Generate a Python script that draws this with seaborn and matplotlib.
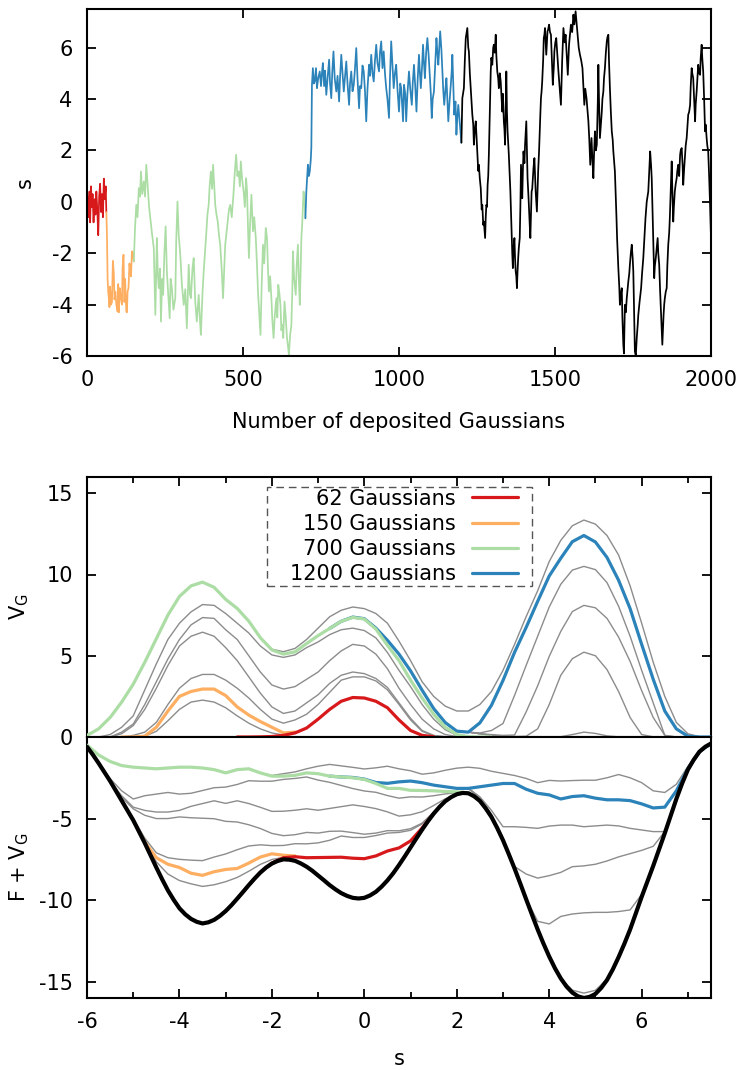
import numpy as np
import pandas as pd
import matplotlib
matplotlib.use("Agg")
import matplotlib.pyplot as plt
import seaborn as sns
from matplotlib.lines import Line2D
from matplotlib.patches import Rectangle
from matplotlib.ticker import FixedLocator

N = np.nan

# ---------------- top panel: trajectory s(t) ----------------
seg_red = [(0,-0.3),(3,0.2),(5,-0.6),(8,0.4),(10,-0.8),(13,0.6),(15,-0.2),(18,0.3),(21,-0.8),(24,0.1),
           (27,-0.5),(30,0.4),(33,-0.3),(36,-1.3),(39,0.2),(42,0.7),(45,-0.4),(48,0.3),(51,-0.6),(54,0.9),
           (57,0.1),(60,0.6),(62,-0.4)]
seg_orange = [(64,-1.3),(66,-3.0),(68,-3.5),(70,-3.75),(72,-4.1),(74,-3.3),(77,-4.0),(80,-3.9),(83,-2.3),
              (86,-2.8),(88,-3.8),(91,-3.5),(94,-4.0),(98,-4.27),(100,-3.2),(102,-4.3),(105,-3.36),(108,-3.7),
              (112,-4.0),(114,-2.6),(117,-2.06),(120,-3.9),(122,-3.0),(126,-4.27),(128,-4.3),(130,-3.5),
              (133,-3.36),(136,-2.4),(139,-2.71),(141,-2.9),(144,-1.93),(147,-2.0),(150,-2.32)]
seg_green = [(154,-1.0),(158,-0.12),(162,-0.6),(166,0.53),(170,0.2),(173,1.18),(177,0.3),(182,0.79),(186,0.2),
             (190,1.44),(195,0.53),(199,-0.2),(203,-0.64),(208,-1.2),(214,-1.8),(219,-4.4),(224,-1.41),(227,-2.8),
             (230,-3.36),(234,-2.6),(237,-4.66),(241,-3.0),(244,-3.62),(248,-2.0),(252,-0.96),(256,-2.71),(260,-3.5),
             (265,-4.53),(268,-3.0),(272,-3.36),(277,-4.2),(283,-3.75),(286,-1.5),(290,0.01),(294,-1.3),(299,-2.06),
             (304,-3.2),(310,-4.01),(315,-3.4),(320,-4.92),(326,-2.45),(330,-3.6),(333,-3.75),(338,-2.6),(342,-2.19),
             (347,-3.9),(352,-4.66),(358,-3.62),(362,-4.6),(365,-5.18),(370,-3.6),(374,-2.71),(378,-2.0),(382,-1.28),
             (386,-0.5),(390,-0.12),(393,0.6),(397,1.18),(401,0.5),(404,1.44),(408,0.6),(411,-0.12),(415,-0.5),
             (419,-0.77),(423,-1.3),(427,-1.67),(432,-2.7),(436,-3.75),(440,-2.5),(443,-1.67),(447,-1.2),(451,-0.77),
             (455,-0.3),(459,-0.12),(464,-0.6),(470,0.40),(474,1.2),(478,1.83),(482,1.0),(486,1.18),(490,0.6),
             (493,1.57),(497,0.9),(502,0.40),(506,-0.2),(510,0.92),(513,0.40),(516,-1.0),(519,-2.19),(523,-0.8),
             (527,0.27),(532,-1.15),(536,-0.6),(541,-1.41),(545,-2.5),(548,-3.49),(552,-4.3),(556,-5.18),(560,-3.2),
             (564,-1.67),(568,-2.4),(573,-1.02),(577,-1.41),(580,-2.6),(583,-3.49),(587,-2.9),(591,-3.75),(594,-4.6),
             (598,-5.30),(602,-4.4),(607,-3.75),(610,-4.5),(613,-3.23),(617,-3.6),(620,-4.01),(623,-5.0),(626,-4.79),
             (629,-5.3),(633,-3.88),(637,-4.5),(641,-5.30),(644,-5.6),(647,-5.95),(651,-5.2),(655,-4.79),(658,-3.5),
             (660,-1.93),(664,-3.0),(669,-3.62),(672,-2.5),(676,-1.67),(679,-3.0),(682,-4.01),(685,-2.6),(687,-1.41),
             (690,-0.8),(694,0.40),(697,0.1),(700,-0.64)]
seg_blue = [(703,0.40),(708,1.44),(711,1.0),(714,1.18),(717,1.6),(719,2.09),(721,4.55),(724,5.20),(727,4.6),
            (730,4.68),(734,5.2),(737,4.42),(741,4.8),(746,5.07),(750,4.5),(753,5.0),(756,5.40),(760,4.5),(763,5.1),
            (767,4.16),(771,4.8),(776,5.53),(779,4.6),(783,4.03),(786,5.0),(790,5.85),(794,4.8),(799,4.29),(803,4.9),
            (808,3.90),(811,4.8),(815,5.72),(819,5.0),(823,4.29),(827,4.9),(831,5.46),(835,4.6),(840,3.77),(843,4.6),
            (847,5.07),(851,4.3),(855,4.55),(859,5.2),(863,5.98),(867,4.8),(872,3.64),(875,4.5),(879,4.42),(883,5.3),
            (887,5.07),(891,4.3),(895,3.13),(899,4.4),(904,5.33),(907,4.9),(911,5.72),(915,5.0),(919,4.68),(923,5.5),
            (927,6.11),(931,5.4),(936,5.07),(939,5.8),(943,6.24),(947,5.2),(951,5.85),(955,5.0),(959,4.42),(963,4.0),
            (968,3.26),(971,4.8),(975,6.24),(979,5.3),(983,4.42),(987,5.0),(991,5.33),(995,4.4),(1000,3.51),(1004,4.6),
            (1007,4.42),(1010,3.8),(1013,3.13),(1016,4.55),(1020,4.2),(1023,3.13),(1027,4.2),(1032,5.07),(1036,4.4),
            (1041,3.77),(1044,4.6),(1048,5.33),(1052,4.5),(1056,3.51),(1060,4.8),(1064,5.72),(1067,5.0),(1070,4.42),
            (1074,5.3),(1077,6.11),(1080,5.4),(1083,4.81),(1087,5.8),(1091,6.37),(1095,5.7),(1098,5.07),(1102,4.2),
            (1105,3.26),(1108,4.0),(1112,4.29),(1116,5.3),(1120,6.37),(1123,5.8),(1126,5.33),(1129,6.0),(1132,6.63),
            (1136,5.9),(1139,5.07),(1142,4.3),(1145,3.77),(1149,4.4),(1152,4.81),(1155,4.0),(1158,3.13),(1162,3.9),
            (1166,4.55),(1169,5.1),(1171,5.72),(1174,4.6),(1177,3.39),(1181,3.9),(1184,2.61),(1187,3.3),(1190,3.77),
            (1194,3.2),(1197,2.74),(1200,2.3)]
seg_black = [(1203,4.03),(1208,4.42),(1211,5.5),(1214,6.37),(1219,6.76),(1222,6.0),(1224,5.85),(1227,5.0),(1230,4.42),
             (1233,3.8),(1235,3.39),(1238,3.0),(1240,2.22),(1243,2.8),(1246,3.13),(1249,2.4),(1251,1.96),(1254,1.2),
             (1256,1.44),(1259,0.9),(1262,0.53),(1265,-0.3),(1267,-0.12),(1270,-0.9),(1272,-0.77),(1276,-1.41),
             (1278,-0.6),(1280,-0.12),(1282,-0.2),(1284,0.66),(1286,1.0),(1288,1.83),(1291,3.5),(1294,5.07),(1296,5.6),
             (1299,5.33),(1302,6.0),(1304,6.11),(1307,5.8),(1310,6.50),(1312,5.7),(1315,5.07),(1318,4.8),(1320,4.42),
             (1323,5.0),(1326,4.68),(1328,4.2),(1331,3.51),(1333,4.2),(1336,3.13),(1338,2.8),(1340,2.22),(1342,3.6),
             (1344,5.07),(1346,3.5),(1348,2.74),(1350,2.3),(1352,1.83),(1355,1.0),(1357,0.40),(1359,-0.4),(1361,-1.15),
             (1363,-2.0),(1365,-2.58),(1367,-1.8),(1370,-1.41),(1372,-2.2),(1374,-2.71),(1376,-2.9),(1378,-3.36),
             (1380,-2.7),(1382,-2.19),(1384,-1.8),(1387,-1.41),(1389,-0.2),(1391,1.44),(1393,0.8),(1395,0.14),
             (1397,1.2),(1399,1.96),(1402,1.5),(1404,2.22),(1406,2.7),(1408,3.13),(1410,2.0),(1412,0.92),(1415,0.2),
             (1417,-0.38),(1419,-0.9),(1421,-1.41),(1423,-0.5),(1425,0.40),(1427,0.5),(1429,0.92),(1431,1.3),
             (1434,1.70),(1436,1.0),(1438,0.40),(1440,0.0),(1442,-0.38),(1444,0.4),(1446,1.18),(1449,2.0),(1451,2.74),
             (1453,3.4),(1455,4.03),(1457,4.3),(1459,4.68),(1462,5.5),(1464,6.37),(1466,6.5),(1468,6.76),(1470,6.2),
             (1472,5.72),(1474,6.2),(1476,6.63),(1478,6.7),(1481,6.89),(1484,6.6),(1487,6.50),(1490,5.5),(1493,4.55),
             (1496,5.2),(1498,5.85),(1501,6.2),(1504,6.37),(1508,5.6),(1511,5.07),(1515,4.4),(1519,3.77),(1523,5.5),
             (1527,6.76),(1531,6.2),(1534,6.50),(1538,5.6),(1541,4.94),(1543,5.5),(1545,6.11),(1548,6.5),(1551,6.89),
             (1555,6.6),(1559,7.28),(1562,6.9),(1566,7.41),(1569,7.0),(1573,6.50),(1576,6.0),(1580,5.72),(1584,5.5),
             (1588,5.20),(1591,4.5),(1594,3.77),(1597,4.4),(1601,4.03),(1604,3.6),(1607,3.13),(1610,2.4),(1613,1.44),
             (1615,2.0),(1617,2.48),(1620,1.6),(1623,0.92),(1625,1.8),(1628,2.74),(1631,2.0),(1634,2.22),(1637,3.8),
             (1639,5.33),(1641,4.0),(1644,2.48),(1647,3.0),(1650,3.51),(1652,4.0),(1655,4.29),(1657,4.8),(1660,5.20),
             (1663,5.8),(1666,6.24),(1668,6.4),(1671,6.50),(1673,5.5),(1676,4.42),(1679,3.5),(1682,2.74),(1685,2.4),
             (1687,1.96),(1690,1.5),(1692,1.18),(1695,0.14),(1697,-0.6),(1699,-1.41),(1701,-2.0),(1703,-2.58),
             (1706,-3.3),(1708,-4.01),(1711,-3.6),(1714,-3.36),(1716,-4.5),(1719,-5.56),(1721,-5.9),(1724,-4.01),
             (1727,-4.3),(1730,-3.75),(1732,-3.5),(1735,-3.10),(1738,-2.8),(1740,-2.45),(1743,-2.0),(1746,-1.67),
             (1749,-2.2),(1751,-2.71),(1754,-4.5),(1756,-5.82),(1759,-6.0),(1762,-5.30),(1765,-4.8),(1767,-4.40),
             (1771,-3.9),(1776,-3.36),(1779,-2.8),(1783,-2.19),(1786,-1.5),(1790,-0.64),(1794,0.0),(1799,0.40),
             (1802,1.2),(1805,1.96),(1808,1.4),(1810,0.92),(1812,0.0),(1814,-0.77),(1816,-2.0),(1818,-2.97),
             (1820,-2.5),(1823,-2.19),(1826,-1.8),(1829,-1.41),(1831,-2.0),(1834,-2.45),(1837,-3.5),(1840,-4.40),
             (1842,-5.0),(1844,-5.56),(1846,-5.0),(1848,-4.40),(1850,-4.0),(1852,-3.75),(1855,-3.5),(1858,-3.36),
             (1860,-2.5),(1863,-1.67),(1866,-1.2),(1868,-0.64),(1871,0.5),(1874,1.57),(1876,0.5),(1879,-0.77),
             (1881,-0.2),(1884,0.40),(1887,0.7),(1890,0.92),(1892,1.2),(1895,1.44),(1898,1.0),(1901,1.83),(1903,2.0),
             (1906,2.09),(1909,1.4),(1911,0.66),(1914,1.3),(1917,1.83),(1919,2.2),(1922,2.48),(1925,3.0),(1927,3.39),
             (1930,3.5),(1933,3.77),(1935,4.5),(1938,5.20),(1940,5.0),(1943,4.81),(1946,4.0),(1949,3.13),(1951,3.8),
             (1954,4.29),(1957,4.9),(1959,5.33),(1962,5.0),(1965,4.94),(1967,5.6),(1970,6.11),(1972,5.6),(1975,5.07),
             (1978,4.0),(1981,2.74),(1983,3.0),(1986,2.48),(1988,2.2),(1991,1.96),(1994,1.0),(1997,-0.12),(2000,-1.41)]

# ---------------- bottom panels: bias potential and F + V_G ----------------
s_fine = np.arange(-6.0, 7.5001, 0.125)   # 109 points, grid of the free-energy curve
s_grid = s_fine[::2]                      # 55 points, grid of the bias snapshots

free_energy = [-0.6, -1.08, -1.6, -2.15, -2.7, -3.3, -3.9, -4.5, -5.1, -5.8, -6.5, -7.25, -8.0, -8.72,
               -9.4, -9.98, -10.5, -10.87, -11.15, -11.33, -11.43, -11.36, -11.21, -10.97, -10.67, -10.31,
               -9.91, -9.5, -9.08, -8.68, -8.31, -8.0, -7.76, -7.6, -7.5, -7.52, -7.59, -7.75, -7.95, -8.2,
               -8.49, -8.78, -9.08, -9.34, -9.57, -9.74, -9.86, -9.9, -9.86, -9.71, -9.49, -9.17, -8.79,
               -8.35, -7.85, -7.32, -6.77, -6.22, -5.68, -5.17, -4.7, -4.29, -3.94, -3.69, -3.51, -3.43,
               -3.45, -3.63, -3.92, -4.37, -4.9, -5.58, -6.33, -7.18, -8.06, -8.99, -9.94, -10.88, -11.8,
               -12.66, -13.46, -14.18, -14.8, -15.3, -15.67, -15.9, -16.0, -15.93, -15.75, -15.38, -14.9,
               -14.25, -13.5, -12.68, -11.8, -10.8, -9.8, -8.85, -7.9, -6.9, -5.9, -4.85, -3.8, -2.85, -2.0,
               -1.4, -0.9, -0.6, -0.4]

vg_62 = [N]*13 + [0.0, 0.0, 0.01, 0.03, 0.1, 0.25, 0.55, 1.1, 1.7, 2.2, 2.43, 2.4, 2.2, 1.8, 1.05, 0.4,
                  0.1, 0.02] + [N]*24
vg_150 = [N]*3 + [0.0, 0.0, 0.05, 0.6, 1.6, 2.5, 2.8, 2.95, 2.95, 2.55, 1.85, 1.35, 0.95, 0.6, 0.25,
                  0.3] + [N]*36
vg_700 = [0.1, 0.5, 1.2, 2.15, 3.25, 4.6, 6.05, 7.5, 8.65, 9.3, 9.53, 9.21, 8.47, 7.91, 7.13, 6.11, 5.36,
          5.1, 5.24, 5.75, 6.24, 6.68, 7.12, 7.36, 7.26, 6.64, 5.64, 4.7, 3.5, 2.4, 1.4, 0.6, 0.15, 0.02,
          0.0, 0.0] + [N]*19
vg_1200 = [N]*21 + [6.68, 7.12, 7.38, 7.28, 6.7, 5.95, 5.1, 4.07, 2.88, 1.75, 0.89, 0.36, 0.3, 0.87,
                    1.95, 3.48, 5.21, 6.74, 8.35, 9.91, 11.0, 12.02, 12.4, 12.0, 11.05, 9.65, 7.9, 5.7,
                    3.55, 1.6, 0.5, 0.05, 0.0, 0.0]

# intermediate snapshots (grey)
vg_g100 = [N]*4 + [0.0, 0.05, 0.35, 1.0, 1.7, 2.15, 2.27, 2.15, 1.8, 1.3, 0.85, 0.5, 0.25, 0.12, 0.26,
                   0.55, 1.1, 1.7, 2.2, 2.43, 2.4, 2.2, 1.8, 1.05, 0.4, 0.1, 0.02] + [N]*24
vg_g250 = [N]*3 + [0.0, 0.1, 0.3, 0.9, 2.0, 3.0, 3.6, 3.85, 3.85, 3.5, 3.0, 2.4, 1.7, 1.1, 0.85, 1.05,
                   1.4, 2.0, 2.75, 3.5, 3.7, 3.7, 3.45, 2.9, 2.0, 1.05, 0.35, 0.08, 0.01] + [N]*23
vg_g350 = [N]*2 + [0.0, 0.2, 0.7, 1.7, 3.0, 4.4, 5.6, 6.2, 6.45, 6.2, 5.5, 4.7, 3.7, 2.7, 1.85, 1.45,
                   1.6, 2.1, 2.6, 3.3, 3.8, 4.0, 3.9, 3.6, 3.05, 2.1, 1.15, 0.4, 0.1, 0.02] + [N]*23
vg_g450 = [N]*2 + [0.0, 0.3, 0.8, 2.0, 3.4, 4.8, 6.0, 6.9, 7.35, 7.3, 6.6, 6.0, 5.0, 4.0, 3.2, 2.95,
                   3.1, 3.55, 4.0, 4.7, 5.3, 5.7, 5.6, 5.1, 4.2, 3.0, 2.0, 1.1, 0.5, 0.15, 0.03] + [N]*22
vg_g600 = [N]*1 + [0.0, 0.15, 0.6, 1.3, 2.9, 4.5, 6.0, 7.0, 7.7, 8.15, 8.1, 7.6, 7.0, 6.4, 5.6, 5.05,
                   4.9, 5.05, 5.5, 5.85, 6.3, 6.6, 6.7, 6.55, 6.1, 5.2, 4.1, 3.1, 2.0, 1.1, 0.45, 0.1,
                   0.01] + [N]*21
vg_g750 = [N]*33 + [0.3, 0.2, 0.1, 0.05, 0.02, 0.0, 0.0, 0.0, 0.02, 0.15, 0.3, 0.22, 0.07, 0.01, 0.0,
                    0.0] + [N]*6
vg_g850 = [N]*33 + [0.3, 0.2, 0.1, 0.05, 0.03, 0.05, 0.5, 2.0, 3.8, 4.82, 5.22, 5.0, 4.15, 2.8, 1.2,
                    0.15, 0.01, 0.0] + [N]*4
vg_g950 = [N]*33 + [0.3, 0.2, 0.15, 0.1, 0.12, 1.54, 3.15, 4.96, 6.5, 7.72, 8.1, 7.95, 7.3, 6.15, 4.65,
                    2.85, 1.2, 0.1, 0.0] + [N]*3
vg_g1050 = [N]*33 + [0.3, 0.25, 0.4, 0.83, 2.56, 4.4, 6.2, 8.0, 9.4, 10.27, 10.5, 10.3, 9.5, 8.05, 6.2,
                     4.1, 2.1, 0.1, 0.0] + [N]*3
vg_g1300 = [N]*15 + [6.11, 5.4, 5.25, 5.45, 6.0, 6.7, 7.4, 7.8, 8.0, 7.9, 7.6, 7.0, 5.9, 4.7, 3.4, 2.5,
                     1.9, 1.6, 1.6, 2.0, 2.8, 4.1, 5.7, 7.4, 9.0, 10.8, 12.1, 13.0, 13.35, 13.1, 12.4,
                     11.2, 9.3, 7.0, 4.6, 2.5, 0.9, 0.2, 0.02, 0.0]

legend_labels = ["62 Gaussians", "150 Gaussians", "700 Gaussians", "1200 Gaussians"]

RED, ORANGE, GREEN, BLUE = "#d7191c", "#fdae61", "#abdda4", "#2b83ba"
GREY = "#8c8c8c"

# ---------------- style ----------------
sns.set_theme(style="ticks", rc={"axes.edgecolor": "black", "xtick.color": "black",
                                 "ytick.color": "black", "axes.labelcolor": "black",
                                 "text.color": "black"})
plt.rcParams["font.family"] = ["DejaVu Sans"]
plt.rcParams["mathtext.default"] = "regular"
plt.rcParams["axes.unicode_minus"] = False
FS = 15

W, H = 745, 1070
def frac(l, t, r, b):
    return [l / W, 1 - b / H, (r - l) / W, (b - t) / H]

fig = plt.figure(figsize=(W / 100, H / 100), dpi=100)
ax_t = fig.add_axes(frac(87, 9, 711, 356))
ax_v = fig.add_axes(frac(87, 477, 711, 737))
ax_f = fig.add_axes(frac(87, 737, 711, 998))

# ---- top panel ----
prev = None
for seg, col in [(seg_red, RED), (seg_orange, ORANGE), (seg_green, GREEN), (seg_blue, BLUE), (seg_black, "black")]:
    pts = ([prev] if prev is not None else []) + seg
    df = pd.DataFrame(pts, columns=["n", "s"])
    sns.lineplot(data=df, x="n", y="s", ax=ax_t, color=col, lw=1.25, estimator=None,
                 sort=False, legend=False)
    prev = seg[-1]

ax_t.set_xlim(0, 2000)
ax_t.set_ylim(-6, 7.5)
ax_t.set_xticks([0, 500, 1000, 1500, 2000])
ax_t.set_yticks([-6, -4, -2, 0, 2, 4, 6])
ax_t.set_xlabel("Number of deposited Gaussians", fontsize=FS)
ax_t.set_ylabel("s", fontsize=FS)

# ---- bottom panels ----
F_fine = np.array(free_energy)
F = F_fine[::2]
greys = [vg_g100, vg_g250, vg_g350, vg_g450, vg_g600, vg_g750, vg_g850, vg_g950, vg_g1050, vg_g1300]
for c in greys:
    c = np.array(c, dtype=float)
    sns.lineplot(x=s_grid, y=c, ax=ax_v, color=GREY, lw=1.0, zorder=2.6, legend=False)
    sns.lineplot(x=s_grid, y=F + c, ax=ax_f, color=GREY, lw=1.0, zorder=2.6, legend=False)

for c, col in [(vg_1200, BLUE), (vg_700, GREEN), (vg_150, ORANGE), (vg_62, RED)]:
    c = np.array(c, dtype=float)
    sns.lineplot(x=s_grid, y=c, ax=ax_v, color=col, lw=2.3, zorder=3, legend=False)
    sns.lineplot(x=s_grid, y=F + c, ax=ax_f, color=col, lw=2.3, zorder=3, legend=False)

sns.lineplot(x=s_fine, y=F_fine, ax=ax_f, color="black", lw=3.0, zorder=4, legend=False)

for ax in (ax_v, ax_f):
    ax.set_xlim(-6, 7.5)
    ax.xaxis.set_major_locator(FixedLocator([-6, -4, -2, 0, 2, 4, 6]))
    ax.xaxis.set_minor_locator(FixedLocator([-5, -3, -1, 1, 3, 5, 7]))
ax_v.set_ylim(0, 16)
ax_v.set_yticks([0, 5, 10, 15])
ax_f.set_ylim(-16, 0)
ax_f.set_yticks([-15, -10, -5])

ax_v.set_ylabel("V$_G$", fontsize=FS)
ax_f.set_ylabel("F + V$_G$", fontsize=FS)
ax_f.set_xlabel("s", fontsize=FS)
ax_v.set_xlabel("")

# ticks & spines
for ax in (ax_t, ax_v, ax_f):
    for sp in ax.spines.values():
        sp.set_linewidth(1.5)
        sp.set_color("black")
    ax.tick_params(which="major", direction="in", length=6.5, width=1.3, labelsize=FS, pad=10.3,
                   left=True, right=True)
    ax.tick_params(which="minor", direction="in", length=4.3, width=1.3)
ax_t.tick_params(axis="x", top=True, bottom=True)
ax_v.tick_params(axis="x", which="both", top=True, bottom=False, labelbottom=False, labeltop=False)
ax_f.tick_params(axis="x", which="both", top=False, bottom=True, labelbottom=True)

# label positions
ax_t.yaxis.set_label_coords(-0.083, 0.5)
ax_v.yaxis.set_label_coords(-0.09, 0.5)
ax_f.yaxis.set_label_coords(-0.09, 0.5)
ax_t.xaxis.set_label_coords(0.5, -0.16)
ax_f.xaxis.set_label_coords(0.5, -0.195)

# legend (gnuplot-like: right-aligned text, sample on the right, dashed box)
handles = [Line2D([], [], color=c, lw=2.3) for c in (RED, ORANGE, GREEN, BLUE)]
leg = ax_v.legend(handles, legend_labels, loc="upper right", bbox_to_anchor=(0.690, 0.955),
                  markerfirst=False, frameon=False, fontsize=FS, handlelength=2.2,
                  handletextpad=0.75, labelspacing=0.25, borderpad=0, borderaxespad=0)
leg.set_zorder(6)
ax_v.add_patch(Rectangle((0.2885, 0.581), 0.4242, 0.3817, transform=ax_v.transAxes, fill=False,
                         ec="#555555", lw=1.0, ls=(0, (5.5, 3.5)), zorder=5, clip_on=False))

fig.savefig("out.png", dpi=100, facecolor="white")
